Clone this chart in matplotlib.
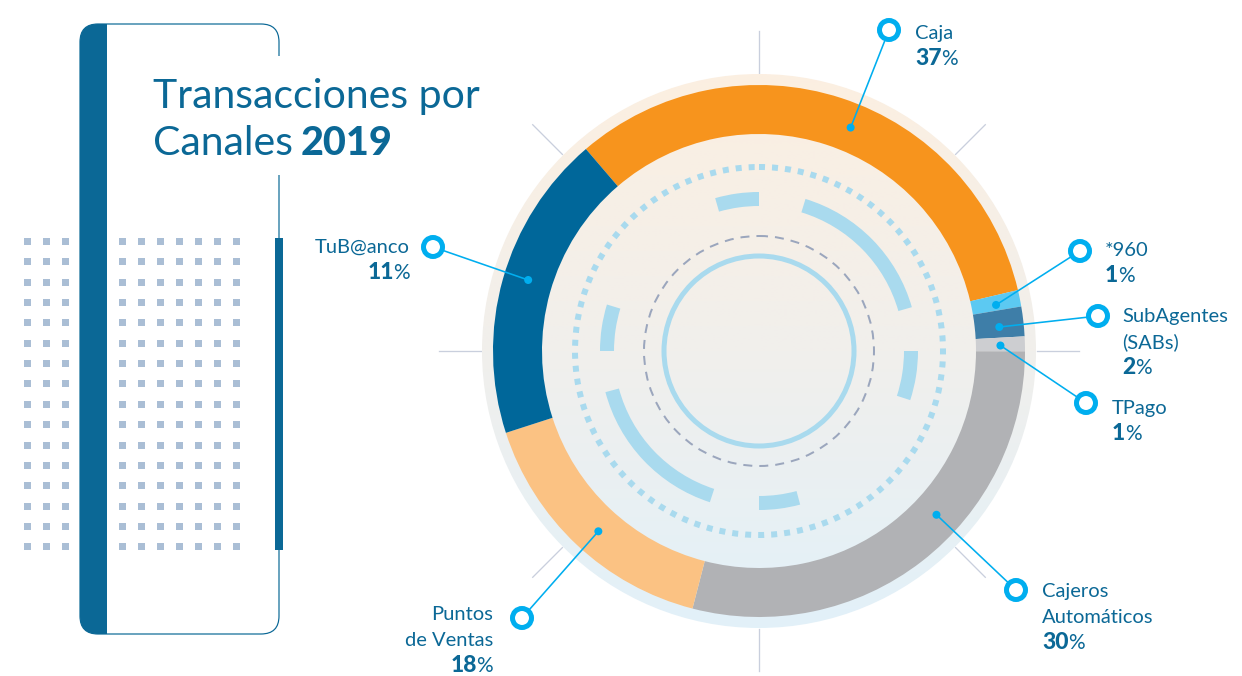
import numpy as np
import matplotlib
matplotlib.use("Agg")
import matplotlib.pyplot as plt
from matplotlib.patches import Circle, Wedge, Rectangle, FancyBboxPatch
from matplotlib.colors import to_rgb

plt.rcParams['font.family'] = ['Lato', 'DejaVu Sans']

# data
channels = ["Caja", "*960", "SubAgentes\n(SABs)", "TPago", "Cajeros\nAutomáticos", "Puntos\nde Ventas", "TuB@anco"]
pct_label = [37, 1, 2, 1, 30, 18, 11]
# arc sizes as drawn in the original graphic (read off the picture, not proportional to labels)
arc_share = [32.6, 1.0, 1.8, 0.9, 29.0, 16.0, 18.7]
seg_colors = ["#F7941D", "#5CC9F2", "#3E7EA8", "#CDCED1", "#B1B2B5", "#FBC283", "#00679A"]

title_line1 = "Transacciones por"
title_line2 = "Canales"
title_year = "2019"

# layout (pixel coords, y down)
W, H = 1242, 676
CX, CY = 759, 351
R_BG, R_OUT, RING_W = 277, 266, 49
BLUE = "#0B6896"
CYAN = "#00AEEF"
DECO = "#A9DAEE"

# callout layout: dot angle on the ring, ring marker position, text anchor, alignment
dot_ang = [67.7, 11.0, 5.7, 1.3, -42.7, 228.3, 162.9]
ring_xy = [(889, 30), (1080, 251), (1098, 316), (1086, 403), (1016, 590), (522, 618), (433, 247)]
text_xy = [(915, 39), (1105, 256), (1122, 322), (1112, 414), (1042, 597), (493, 620), (410, 253)]
text_ha = ["left", "left", "left", "left", "left", "right", "right"]


def px(v):
    return v * 0.72


def polar(a, r):
    return CX + r * np.cos(np.radians(a)), CY - r * np.sin(np.radians(a))


fig = plt.figure(figsize=(W / 100, H / 100), dpi=100)
ax = fig.add_axes([0, 0, 1, 1])

# ---- left panel ----
gx = 27 + 19 * np.arange(12)
gy = 241 + 20.35 * np.arange(16)
GX, GY = np.meshgrid(gx, gy)
ax.scatter(GX.ravel(), GY.ravel(), marker="s", s=px(7) ** 2, color="#AABED5", lw=0, zorder=1)

bar = FancyBboxPatch((80, 24), 199, 610, boxstyle="round,pad=0,rounding_size=18",
                     facecolor=BLUE, edgecolor="none", zorder=2)
ax.add_patch(bar)
bar.set_clip_path(Rectangle((80, 0), 27, H, transform=ax.transData))
ax.add_patch(FancyBboxPatch((80, 24), 199, 610, boxstyle="round,pad=0,rounding_size=18",
                            facecolor="none", edgecolor=BLUE, lw=px(1.2), zorder=3))
ax.add_patch(Rectangle((270, 56), 20, 119, facecolor="white", edgecolor="none", zorder=4))
ax.add_patch(Rectangle((275, 238), 8, 312, facecolor=BLUE, edgecolor="none", zorder=4))

# ---- chart ----
for a in range(0, 360, 45):
    x0, y0 = polar(a, 278)
    x1, y1 = polar(a, 320)
    ax.plot([x0, x1], [y0, y1], color="#C9CFDD", lw=px(1.3), zorder=1)

c_top, c_mid, c_bot = to_rgb("#FCEFE1"), to_rgb("#F1EFEC"), to_rgb("#E2F1F9")
tt = np.linspace(0, 1, 256)[:, None]
grad = np.where(tt < 0.5,
                np.array(c_top) * (1 - tt * 2) + np.array(c_mid) * tt * 2,
                np.array(c_mid) * (2 - tt * 2) + np.array(c_bot) * (tt * 2 - 1))
im = ax.imshow(grad[:, None, :], extent=(CX - R_BG, CX + R_BG, CY + R_BG, CY - R_BG),
               origin="upper", aspect="auto", interpolation="bilinear", zorder=2)
im.set_clip_path(Circle((CX, CY), R_BG, transform=ax.transData))

# y axis is inverted, so positive data angles run clockwise on screen
ax.pie(arc_share, colors=seg_colors, radius=R_OUT, center=(CX, CY), startangle=-130.6,
       counterclock=True, wedgeprops=dict(width=RING_W, linewidth=0, zorder=3))

for v1, v2 in [(90, 106), (16, 73), (-18, 0), (-90, -75), (195, 252), (163, 180)]:
    ax.add_patch(Wedge((CX, CY), 159, -v2, -v1, width=14, facecolor=DECO, edgecolor="none", zorder=4))
ax.add_patch(Circle((CX, CY), 184, fill=False, edgecolor=DECO, lw=px(6),
                    linestyle=(0, (1.0, 1.17)), zorder=4))
ax.add_patch(Circle((CX, CY), 115, fill=False, edgecolor="#9BA6BD", lw=px(2),
                    linestyle=(0, (4.5, 3.5)), zorder=4))
ax.add_patch(Circle((CX, CY), 95, fill=False, edgecolor=DECO, lw=px(5), zorder=4))

ax.set_xlim(0, W)
ax.set_ylim(H, 0)
ax.set_aspect("auto")
ax.axis("off")
fig.canvas.draw()
rend = fig.canvas.get_renderer()
inv = ax.transData.inverted()


def x_of(txt, side):
    bb = txt.get_window_extent(rend)
    return inv.transform((bb.x1 if side == "right" else bb.x0, bb.y0))[0]


# ---- title ----
ax.text(153, 108, title_line1, fontsize=29.5, color=BLUE, va="baseline", zorder=5)
t = ax.text(153, 155, title_line2, fontsize=29.5, color=BLUE, va="baseline", zorder=5)
ax.text(x_of(t, "right") + 8, 155, title_year, fontsize=28.5, fontweight="black",
        color=BLUE, va="baseline", zorder=5)

# ---- callouts ----
for i, name in enumerate(channels):
    dx, dy = polar(dot_ang[i], 241.5)
    rx, ry = ring_xy[i]
    ax.plot([dx, rx], [dy, ry], color=CYAN, lw=px(1.6), zorder=6)
    ax.add_patch(Circle((dx, dy), 4, facecolor=CYAN, edgecolor="none", zorder=7))
    ax.add_patch(Circle((rx, ry), 9.5, facecolor="white", edgecolor=CYAN, lw=px(5), zorder=7))

    tx, ty = text_xy[i]
    lines = name.split("\n")
    for k, ln in enumerate(lines):
        ax.text(tx, ty + 26 * k, ln, fontsize=14.5, color=BLUE, ha=text_ha[i], va="baseline", zorder=8)
    yb = ty + 26 * len(lines)
    if text_ha[i] == "left":
        n = ax.text(tx, yb, str(pct_label[i]), fontsize=16.5, fontweight="black", color=BLUE,
                    va="baseline", zorder=8)
        ax.text(x_of(n, "right") - 0.5, yb, "%", fontsize=15, color=BLUE, va="baseline", zorder=8)
    else:
        p = ax.text(tx, yb, "%", fontsize=15, color=BLUE, ha="right", va="baseline", zorder=8)
        ax.text(x_of(p, "left") + 0.5, yb, str(pct_label[i]), fontsize=16.5, fontweight="black",
                color=BLUE, ha="right", va="baseline", zorder=8)

fig.savefig("out.png", dpi=100, facecolor="white")
